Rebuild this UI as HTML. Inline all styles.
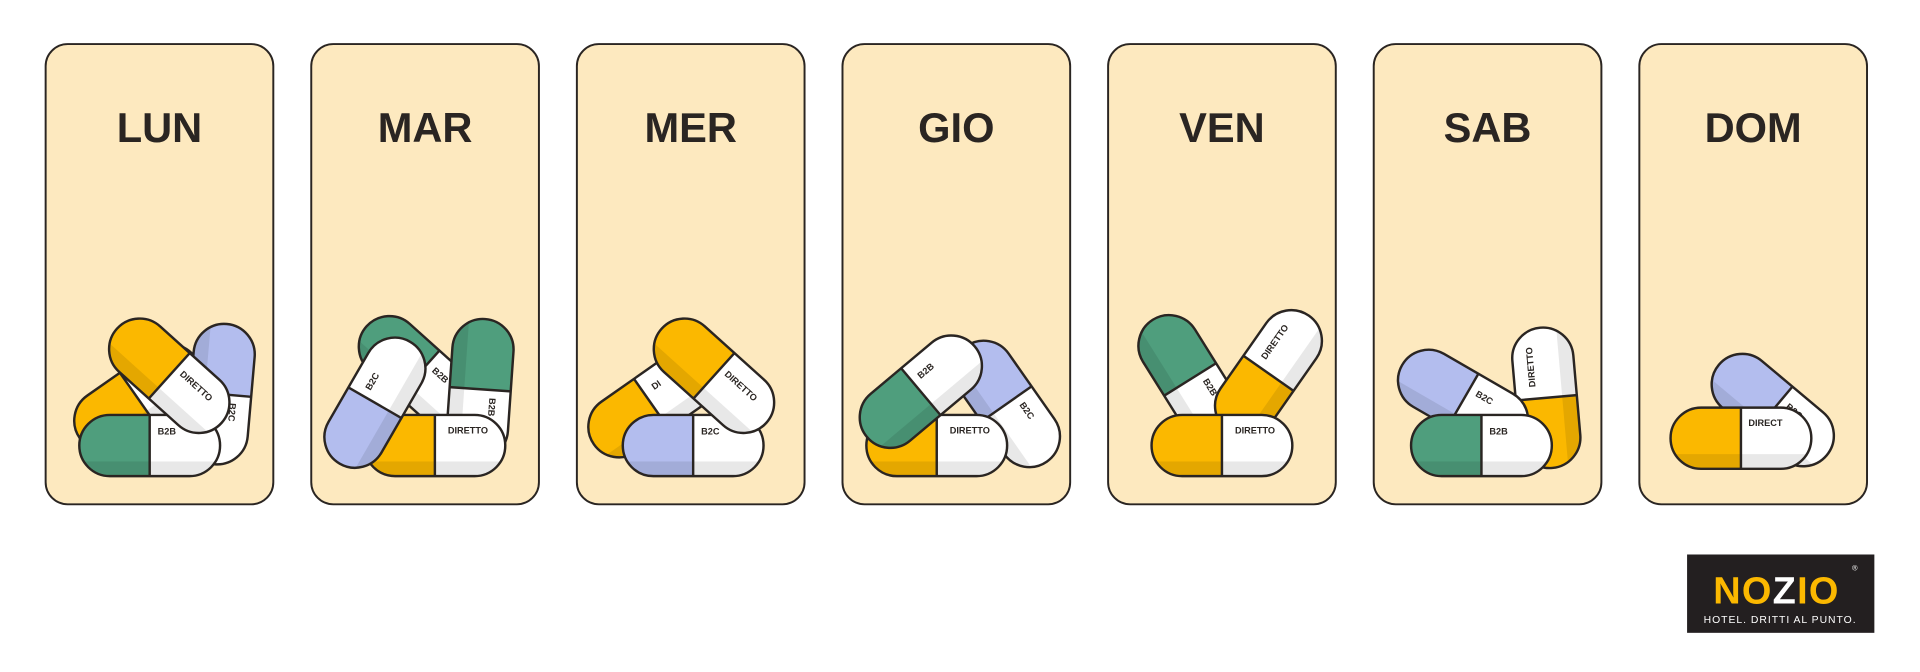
<!DOCTYPE html>
<html><head><meta charset="utf-8"><style>
html,body{margin:0;padding:0;background:#fff;width:1920px;height:672px;overflow:hidden}
svg{display:block}
.t{font-family:"Liberation Sans",sans-serif;font-weight:bold;font-size:34px;fill:#2a2522;text-anchor:middle}
.l{font-family:"Liberation Sans",sans-serif;font-weight:bold;font-size:7.5px;fill:#2a2522;text-anchor:middle}
</style></head><body>
<svg width="1920" height="672" viewBox="0 0 1568 549" xmlns="http://www.w3.org/2000/svg">
<defs>
<clipPath id="pc"><rect x="-57.5" y="-25" width="115" height="50" rx="25"/></clipPath>
<g id="sh"><rect x="-58" y="13" width="116" height="13" fill="#000" opacity="0.09"/></g>
<rect id="ol" x="-57.5" y="-25" width="115" height="50" rx="25" fill="none" stroke="#2a2522" stroke-width="2"/>
</defs>
<g fill="#fde9bf" stroke="#2a2522" stroke-width="1.6">
<rect x="37" y="36" width="186" height="376" rx="18"/>
<rect x="254" y="36" width="186" height="376" rx="18"/>
<rect x="471" y="36" width="186" height="376" rx="18"/>
<rect x="688" y="36" width="186" height="376" rx="18"/>
<rect x="905" y="36" width="186" height="376" rx="18"/>
<rect x="1122" y="36" width="186" height="376" rx="18"/>
<rect x="1339" y="36" width="186" height="376" rx="18"/>
</g>
<text class="t" x="130" y="116">LUN</text>
<text class="t" x="347" y="116">MAR</text>
<text class="t" x="564" y="116">MER</text>
<text class="t" x="781" y="116">GIO</text>
<text class="t" x="998" y="116">VEN</text>
<text class="t" x="1215" y="116">SAB</text>
<text class="t" x="1432" y="116">DOM</text>

<!-- LUN -->
<g transform="translate(112,325) rotate(-35)"><g clip-path="url(#pc)"><rect x="-58" y="-26" width="58" height="52" fill="#fbb800"/><rect x="0" y="-26" width="58" height="52" fill="#fff"/><use href="#sh"/></g><use href="#ol"/><line x1="0" y1="-25" x2="0" y2="25" stroke="#2a2522" stroke-width="2"/><text class="l" x="12" y="-8">DI</text></g>
<g transform="translate(180,322) rotate(95)"><g clip-path="url(#pc)"><rect x="-58" y="-26" width="58" height="52" fill="#b3bdee"/><rect x="0" y="-26" width="58" height="52" fill="#fff"/><use href="#sh"/></g><use href="#ol"/><line x1="0" y1="-25" x2="0" y2="25" stroke="#2a2522" stroke-width="2"/><text class="l" x="14" y="-8">B2C</text></g>
<g transform="translate(122,364)"><g clip-path="url(#pc)"><rect x="-58" y="-26" width="58" height="52" fill="#4f9e7d"/><rect x="0" y="-26" width="58" height="52" fill="#fff"/><use href="#sh"/></g><use href="#ol"/><line x1="0" y1="-25" x2="0" y2="25" stroke="#2a2522" stroke-width="2"/><text class="l" x="14" y="-9">B2B</text></g>
<g transform="translate(138,307) rotate(42)"><g clip-path="url(#pc)"><rect x="-58" y="-26" width="58" height="52" fill="#fbb800"/><rect x="0" y="-26" width="58" height="52" fill="#fff"/><use href="#sh"/></g><use href="#ol"/><line x1="0" y1="-25" x2="0" y2="25" stroke="#2a2522" stroke-width="2"/><text class="l" x="22" y="-6">DIRETTO</text></g>

<!-- MAR -->
<g transform="translate(342,305) rotate(42)"><g clip-path="url(#pc)"><rect x="-58" y="-26" width="58" height="52" fill="#4f9e7d"/><rect x="0" y="-26" width="58" height="52" fill="#fff"/><use href="#sh"/></g><use href="#ol"/><line x1="0" y1="-25" x2="0" y2="25" stroke="#2a2522" stroke-width="2"/><text class="l" x="14" y="-8">B2B</text></g>
<g transform="translate(392,318) rotate(94)"><g clip-path="url(#pc)"><rect x="-58" y="-26" width="58" height="52" fill="#4f9e7d"/><rect x="0" y="-26" width="58" height="52" fill="#fff"/><use href="#sh"/></g><use href="#ol"/><line x1="0" y1="-25" x2="0" y2="25" stroke="#2a2522" stroke-width="2"/><text class="l" x="14" y="-8">B2B</text></g>
<g transform="translate(355,364)"><g clip-path="url(#pc)"><rect x="-58" y="-26" width="58" height="52" fill="#fbb800"/><rect x="0" y="-26" width="58" height="52" fill="#fff"/><use href="#sh"/></g><use href="#ol"/><line x1="0" y1="-25" x2="0" y2="25" stroke="#2a2522" stroke-width="2"/><text class="l" x="27" y="-10">DIRETTO</text></g>
<g transform="translate(306,329) rotate(-60)"><g clip-path="url(#pc)"><rect x="-58" y="-26" width="58" height="52" fill="#b3bdee"/><rect x="0" y="-26" width="58" height="52" fill="#fff"/><use href="#sh"/></g><use href="#ol"/><line x1="0" y1="-25" x2="0" y2="25" stroke="#2a2522" stroke-width="2"/><text class="l" x="14" y="-8">B2C</text></g>

<!-- MER -->
<g transform="translate(532,330) rotate(-35)"><g clip-path="url(#pc)"><rect x="-58" y="-26" width="58" height="52" fill="#fbb800"/><rect x="0" y="-26" width="58" height="52" fill="#fff"/><use href="#sh"/></g><use href="#ol"/><line x1="0" y1="-25" x2="0" y2="25" stroke="#2a2522" stroke-width="2"/><text class="l" x="12" y="-8">DI</text></g>
<g transform="translate(566,364)"><g clip-path="url(#pc)"><rect x="-58" y="-26" width="58" height="52" fill="#b3bdee"/><rect x="0" y="-26" width="58" height="52" fill="#fff"/><use href="#sh"/></g><use href="#ol"/><line x1="0" y1="-25" x2="0" y2="25" stroke="#2a2522" stroke-width="2"/><text class="l" x="14" y="-9">B2C</text></g>
<g transform="translate(583,307) rotate(42)"><g clip-path="url(#pc)"><rect x="-58" y="-26" width="58" height="52" fill="#fbb800"/><rect x="0" y="-26" width="58" height="52" fill="#fff"/><use href="#sh"/></g><use href="#ol"/><line x1="0" y1="-25" x2="0" y2="25" stroke="#2a2522" stroke-width="2"/><text class="l" x="22" y="-6">DIRETTO</text></g>

<!-- GIO -->
<g transform="translate(822,330) rotate(55)"><g clip-path="url(#pc)"><rect x="-58" y="-26" width="58" height="52" fill="#b3bdee"/><rect x="0" y="-26" width="58" height="52" fill="#fff"/><use href="#sh"/></g><use href="#ol"/><line x1="0" y1="-25" x2="0" y2="25" stroke="#2a2522" stroke-width="2"/><text class="l" x="14" y="-8">B2C</text></g>
<g transform="translate(765,364)"><g clip-path="url(#pc)"><rect x="-58" y="-26" width="58" height="52" fill="#fbb800"/><rect x="0" y="-26" width="58" height="52" fill="#fff"/><use href="#sh"/></g><use href="#ol"/><line x1="0" y1="-25" x2="0" y2="25" stroke="#2a2522" stroke-width="2"/><text class="l" x="27" y="-10">DIRETTO</text></g>
<g transform="translate(752,320) rotate(-40)"><g clip-path="url(#pc)"><rect x="-58" y="-26" width="58" height="52" fill="#4f9e7d"/><rect x="0" y="-26" width="58" height="52" fill="#fff"/><use href="#sh"/></g><use href="#ol"/><line x1="0" y1="-25" x2="0" y2="25" stroke="#2a2522" stroke-width="2"/><text class="l" x="14" y="-8">B2B</text></g>

<!-- VEN -->
<g transform="translate(972,310) rotate(58)"><g clip-path="url(#pc)"><rect x="-58" y="-26" width="58" height="52" fill="#4f9e7d"/><rect x="0" y="-26" width="58" height="52" fill="#fff"/><use href="#sh"/></g><use href="#ol"/><line x1="0" y1="-25" x2="0" y2="25" stroke="#2a2522" stroke-width="2"/><text class="l" x="14" y="-8">B2B</text></g>
<g transform="translate(1036,305) rotate(-55)"><g clip-path="url(#pc)"><rect x="-58" y="-26" width="58" height="52" fill="#fbb800"/><rect x="0" y="-26" width="58" height="52" fill="#fff"/><use href="#sh"/></g><use href="#ol"/><line x1="0" y1="-25" x2="0" y2="25" stroke="#2a2522" stroke-width="2"/><text class="l" x="24" y="-8">DIRETTO</text></g>
<g transform="translate(998,364)"><g clip-path="url(#pc)"><rect x="-58" y="-26" width="58" height="52" fill="#fbb800"/><rect x="0" y="-26" width="58" height="52" fill="#fff"/><use href="#sh"/></g><use href="#ol"/><line x1="0" y1="-25" x2="0" y2="25" stroke="#2a2522" stroke-width="2"/><text class="l" x="27" y="-10">DIRETTO</text></g>

<!-- SAB -->
<g transform="translate(1263,325) rotate(-95)"><g clip-path="url(#pc)"><rect x="-58" y="-26" width="58" height="52" fill="#fbb800"/><rect x="0" y="-26" width="58" height="52" fill="#fff"/><use href="#sh"/></g><use href="#ol"/><line x1="0" y1="-25" x2="0" y2="25" stroke="#2a2522" stroke-width="2"/><text class="l" x="26" y="-8">DIRETTO</text></g>
<g transform="translate(1195,327) rotate(30)"><g clip-path="url(#pc)"><rect x="-58" y="-26" width="58" height="52" fill="#b3bdee"/><rect x="0" y="-26" width="58" height="52" fill="#fff"/><use href="#sh"/></g><use href="#ol"/><line x1="0" y1="-25" x2="0" y2="25" stroke="#2a2522" stroke-width="2"/><text class="l" x="14" y="-8">B2C</text></g>
<g transform="translate(1210,364)"><g clip-path="url(#pc)"><rect x="-58" y="-26" width="58" height="52" fill="#4f9e7d"/><rect x="0" y="-26" width="58" height="52" fill="#fff"/><use href="#sh"/></g><use href="#ol"/><line x1="0" y1="-25" x2="0" y2="25" stroke="#2a2522" stroke-width="2"/><text class="l" x="14" y="-9">B2B</text></g>

<!-- DOM -->
<g transform="translate(1448,335) rotate(40)"><g clip-path="url(#pc)"><rect x="-58" y="-26" width="58" height="52" fill="#b3bdee"/><rect x="0" y="-26" width="58" height="52" fill="#fff"/><use href="#sh"/></g><use href="#ol"/><line x1="0" y1="-25" x2="0" y2="25" stroke="#2a2522" stroke-width="2"/><text class="l" x="14" y="-8">B2C</text></g>
<g transform="translate(1422,358)"><g clip-path="url(#pc)"><rect x="-58" y="-26" width="58" height="52" fill="#fbb800"/><rect x="0" y="-26" width="58" height="52" fill="#fff"/><use href="#sh"/></g><use href="#ol"/><line x1="0" y1="-25" x2="0" y2="25" stroke="#2a2522" stroke-width="2"/><text class="l" x="20" y="-10">DIRECT</text></g>

<!-- logo -->
<rect x="1378" y="453" width="153" height="64" fill="#231f20"/>
<text x="1451" y="493" text-anchor="middle" font-family="Liberation Sans,sans-serif" font-weight="bold" font-size="31" fill="#fbb800" letter-spacing="1">NO<tspan fill="#fff">Z</tspan>IO</text>
<text x="1515" y="466" text-anchor="middle" font-family="Liberation Sans,sans-serif" font-size="6" fill="#fff">®</text>
<text x="1454" y="509" text-anchor="middle" font-family="Liberation Sans,sans-serif" font-size="8.5" fill="#fff" letter-spacing="0.8">HOTEL. DRITTI AL PUNTO.</text>
</svg>
</body></html>
